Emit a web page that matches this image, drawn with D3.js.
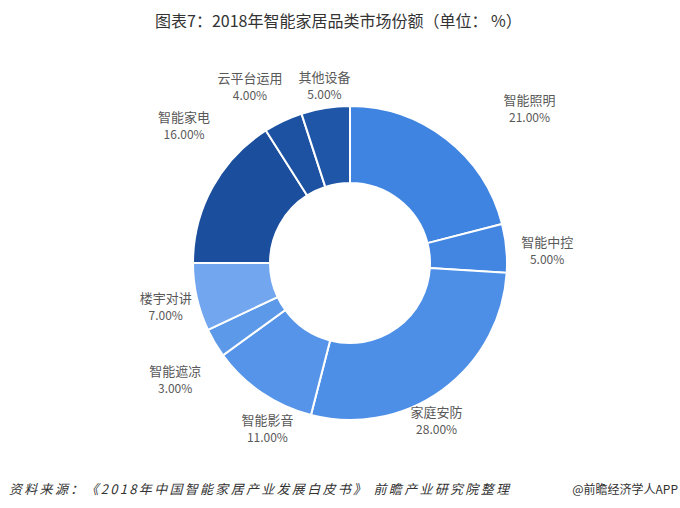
<!DOCTYPE html>
<html>
<head>
<meta charset="utf-8">
<script src="https://cdn.jsdelivr.net/npm/d3@7/dist/d3.min.js"></script>
<style>
  body { margin: 0; background: #fff; }
  text { font-family: "Microsoft YaHei", "Noto Sans CJK SC", sans-serif; }
</style>
</head>
<body>
<div id="donut-chart"></div>
<script>
var categories = ['智能照明', '智能中控', '家庭安防', '智能影音', '智能遮凉', '楼宇对讲', '智能家电', '云平台运用', '其他设备']
var shares = [21, 5, 28, 11, 3, 7, 16, 4, 5]
var sliceColors = ['#3f84e0', '#4286e2', '#4d8fe6', '#5594e8', '#5c99e9', '#72a6ef', '#1b4e9c', '#1d52a2', '#1f56a8']

var width = 680
var height = 508
var cx = 350
var cy = 263
var outerR = 157
var innerR = 80

var svg = d3
  .select('#donut-chart')
  .append('svg')
  .attr('width', width)
  .attr('height', height)

svg
  .append('text')
  .text('图表7：2018年智能家居品类市场份额（单位： %）')
  .attr('x', 155)
  .attr('y', 27)
  .attr('font-size', 16)
  .attr('fill', '#333')

var datapoints = categories.map(function(c, i) {
  return { name: c, value: shares[i], color: sliceColors[i] }
})

var pie = d3
  .pie()
  .value(function(d) { return d.value })
  .sort(null)

var arc = d3.arc().innerRadius(innerR).outerRadius(outerR)

var g = svg.append('g').attr('transform', 'translate(' + cx + ',' + cy + ')')

var arcs = pie(datapoints)

g.selectAll('path')
  .data(arcs)
  .enter()
  .append('path')
  .attr('d', arc)
  .attr('fill', function(d) { return d.data.color })
  .attr('stroke', '#fff')
  .attr('stroke-width', 2)

// excel puts labels a bit freely, nudge from a base ring
var labelR = 195
var nudge = {
  '智能照明': [60, -1],
  '智能中控': [3, 5],
  '家庭安防': [-28, -1],
  '智能影音': [27, 4],
  '智能遮凉': [-7, 17],
  '楼宇对讲': [6, 0],
  '智能家电': [5, -44],
  '云平台运用': [-17, -1],
  '其他设备': [5, 15]
}

var labels = g
  .selectAll('.label')
  .data(arcs)
  .enter()
  .append('g')
  .attr('class', 'label')
  .attr('transform', function(d) {
    var a = (d.startAngle + d.endAngle) / 2
    var n = nudge[d.data.name]
    var x = Math.sin(a) * labelR + n[0]
    var y = -Math.cos(a) * labelR + n[1]
    return 'translate(' + x + ',' + y + ')'
  })

labels
  .append('text')
  .text(function(d) { return d.data.name })
  .attr('text-anchor', 'middle')
  .attr('y', -3)
  .attr('font-size', 13)
  .attr('fill', '#595959')

labels
  .append('text')
  .text(function(d) { return d3.format('.2f')(d.data.value) + '%' })
  .attr('text-anchor', 'middle')
  .attr('y', 14)
  .attr('font-size', 12)
  .attr('fill', '#595959')

svg
  .append('text')
  .text('资料来源：《2018年中国智能家居产业发展白皮书》 前瞻产业研究院整理')
  .attr('x', 9)
  .attr('y', 494)
  .attr('font-size', 13)
  .attr('font-style', 'italic')
  .attr('letter-spacing', 2.3)
  .attr('fill', '#333')

svg
  .append('text')
  .text('@前瞻经济学人APP')
  .attr('x', 678)
  .attr('y', 494)
  .attr('text-anchor', 'end')
  .attr('font-size', 12)
  .attr('fill', '#333')
</script>
</body>
</html>
